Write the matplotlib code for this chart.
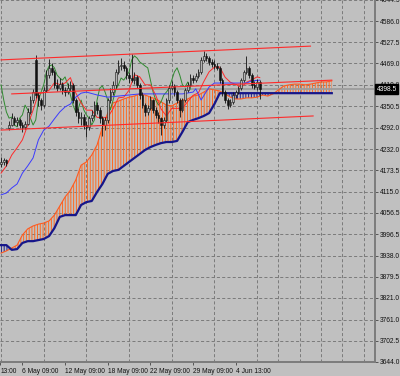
import numpy as np
import matplotlib
matplotlib.use("Agg")
import matplotlib.pyplot as plt

plt.rcParams['font.family'] = ['Liberation Sans', 'DejaVu Sans']
plt.rcParams['hatch.linewidth'] = 0.7
plt.rcParams['lines.scale_dashes'] = False

# price bars (one per bar index)
opens = [4190, 4197, 4202, 4290, 4299, 4318, 4307, 4313, 4299, 4294,
         4302, 4335, 4368, 4479, 4382, 4368, 4354, 4396, 4437, 4457,
         4446, 4410, 4401, 4412, 4396, 4390, 4401, 4410, 4368, 4335,
         4318, 4321, 4299, 4294, 4318, 4327, 4354, 4341, 4318, 4299,
         4313, 4368, 4390, 4410, 4446, 4462, 4465, 4457, 4437, 4429,
         4423, 4432, 4410, 4382, 4354, 4335, 4346, 4368, 4341, 4327,
         4318, 4299, 4313, 4368, 4401, 4407, 4390, 4368, 4341, 4368,
         4396, 4410, 4429, 4423, 4434, 4446, 4479, 4490, 4484, 4473,
         4468, 4462, 4457, 4423, 4390, 4368, 4354, 4363, 4382, 4390,
         4401, 4423, 4446, 4457, 4437, 4410, 4404, 4418]
highs = [4210, 4208, 4206, 4310, 4332, 4325, 4320, 4318, 4306, 4310,
         4345, 4378, 4398, 4493, 4390, 4375, 4405, 4450, 4482, 4470,
         4452, 4425, 4430, 4418, 4405, 4415, 4420, 4414, 4375, 4345,
         4335, 4330, 4310, 4325, 4340, 4365, 4362, 4348, 4325, 4320,
         4375, 4400, 4420, 4455, 4480, 4485, 4475, 4462, 4445, 4495,
         4445, 4438, 4416, 4390, 4360, 4355, 4378, 4372, 4350, 4335,
         4322, 4320, 4375, 4410, 4420, 4412, 4395, 4375, 4375, 4402,
         4418, 4440, 4436, 4442, 4455, 4488, 4503, 4498, 4490, 4482,
         4478, 4470, 4462, 4428, 4396, 4375, 4372, 4390, 4396, 4408,
         4430, 4452, 4490, 4462, 4442, 4420, 4425, 4424]
lows = [4183, 4188, 4185, 4285, 4295, 4300, 4296, 4290, 4280, 4288,
        4298, 4330, 4360, 4374, 4352, 4340, 4348, 4390, 4430, 4438,
        4400, 4392, 4395, 4385, 4378, 4384, 4392, 4360, 4325, 4305,
        4300, 4288, 4266, 4285, 4310, 4320, 4330, 4305, 4268, 4285,
        4305, 4360, 4382, 4402, 4440, 4450, 4448, 4425, 4415, 4418,
        4412, 4400, 4370, 4345, 4325, 4328, 4340, 4332, 4318, 4305,
        4271, 4290, 4308, 4360, 4395, 4380, 4360, 4322, 4335, 4362,
        4390, 4405, 4415, 4418, 4428, 4440, 4472, 4475, 4465, 4460,
        4455, 4450, 4415, 4380, 4360, 4344, 4348, 4358, 4375, 4384,
        4396, 4418, 4440, 4430, 4402, 4398, 4396, 4370]
closes = [4197, 4202, 4194, 4299, 4318, 4307, 4313, 4299, 4294, 4302,
          4335, 4368, 4390, 4382, 4368, 4354, 4396, 4437, 4457, 4446,
          4410, 4401, 4412, 4396, 4390, 4401, 4410, 4368, 4335, 4318,
          4321, 4299, 4294, 4318, 4327, 4354, 4341, 4318, 4299, 4313,
          4368, 4390, 4410, 4446, 4462, 4465, 4457, 4437, 4429, 4423,
          4432, 4410, 4382, 4354, 4335, 4346, 4368, 4341, 4327, 4318,
          4299, 4313, 4368, 4401, 4407, 4390, 4368, 4341, 4368, 4396,
          4410, 4429, 4423, 4434, 4446, 4479, 4490, 4484, 4473, 4468,
          4462, 4457, 4423, 4390, 4368, 4354, 4363, 4382, 4390, 4401,
          4423, 4446, 4457, 4437, 4410, 4404, 4418, 4398.5]

# ichimoku lines
tenkan_x = list(range(0, 97, 2)) + [97]
tenkan = [4166, 4186, 4216, 4236, 4258, 4299, 4340, 4386, 4388, 4395,
          4416, 4411, 4415, 4430, 4388, 4360, 4340, 4340, 4320, 4320,
          4320, 4344, 4374, 4376, 4395, 4438, 4432, 4410, 4410, 4381,
          4343, 4324, 4345, 4345, 4345, 4364, 4381, 4388, 4419, 4446,
          4459, 4459, 4431, 4417, 4411, 4403, 4417, 4424, 4432, 4430]
kijun_x = [0, 2, 4, 6, 8, 10, 12, 14, 16, 18, 20, 22, 24, 26, 28, 30, 32,
           36, 40, 44, 48, 52, 60, 68, 72, 73, 75, 78, 80, 92, 94, 97]
kijun = [4106, 4111, 4125, 4136, 4166, 4186, 4208, 4258, 4285, 4296,
         4316, 4335, 4349, 4357, 4376, 4387, 4390, 4382, 4376, 4379,
         4382, 4385, 4385, 4385, 4390, 4399, 4368, 4404, 4415, 4415,
         4421, 4423]
chikou_shift = 26

span_x = list(range(0, 125, 2))
span_a = [3945, 3951, 3959, 3967, 3995, 4012, 4020, 4025, 4028, 4034,
          4050, 4075, 4100, 4119, 4147, 4188, 4197, 4216, 4244, 4293,
          4332, 4360, 4365, 4371, 4376, 4379, 4385, 4382, 4376, 4371,
          4363, 4354, 4352, 4360, 4368, 4371, 4379, 4382, 4390, 4399,
          4396, 4393, 4385, 4376, 4371, 4371, 4374, 4374, 4376, 4382,
          4379, 4385, 4396, 4407, 4410, 4412, 4412, 4410, 4412, 4415,
          4418, 4418, 4421]
span_b = [3967, 3967, 3954, 3956, 3973, 3978, 3978, 3981, 3984, 3992,
          4014, 4045, 4050, 4050, 4050, 4078, 4086, 4089, 4114, 4136,
          4164, 4172, 4175, 4186, 4197, 4208, 4219, 4230, 4238, 4244,
          4249, 4252, 4252, 4255, 4280, 4307, 4313, 4318, 4324, 4332,
          4357, 4387, 4387, 4387, 4387, 4387, 4387, 4387, 4387, 4387,
          4387, 4387, 4387, 4387, 4387, 4387, 4387, 4387, 4387, 4387,
          4387, 4387, 4387]

# channel (trend lines)
chan_top_x, chan_top = [0, 116], [4479, 4517]
chan_mid_x, chan_mid = [4, 124], [4385, 4423]
chan_bot_x, chan_bot = [0, 117], [4285, 4324]

last_price = 4398.5
price_ticks = [3644.0, 3702.5, 3761.0, 3821.0, 3879.5, 3938.0, 3996.5, 4056.5,
               4115.0, 4173.5, 4232.0, 4292.0, 4350.5, 4410.0, 4469.0, 4527.5,
               4586.0, 4644.5]
time_ticks = [-0.3, 8, 24, 40, 56, 72, 88]
time_labels = ["13:00", "6 May 09:00", "12 May 09:00", "18 May 09:00",
               "22 May 09:00", "29 May 09:00", "4 Jun 13:00"]

BG = '#c0c0c0'
fig = plt.figure(figsize=(4, 3.76), dpi=100, facecolor=BG)
ax = fig.add_axes([0, 14 / 376, 375 / 400, 362 / 376], facecolor=BG)
ax.set_xlim(-0.4, 140.2)
ax.set_ylim(3644.0, 4644.5)

# grid
ax.set_yticks(price_ticks)
ax.set_yticklabels(["%.1f" % p for p in price_ticks])
ax.set_xticks(time_ticks)
ax.set_xticklabels(time_labels)
ax.set_xticks(np.arange(0, 141, 8), minor=True)
ax.grid(True, which='major', axis='y', color='#7a7a7a', lw=0.7, dashes=(2.2, 1.6))
ax.grid(True, which='minor', axis='x', color='#7a7a7a', lw=0.7, dashes=(2.2, 1.6))
ax.set_axisbelow(True)

# cloud
a = np.array(span_a)
b = np.array(span_b)
ax.fill_between(span_x, span_a, span_b, where=a >= b, interpolate=True,
                facecolor='none', edgecolor='#ff6a22', hatch='||||||', linewidth=0, zorder=1)
ax.fill_between(span_x, span_a, span_b, where=a < b, interpolate=True,
                facecolor='none', edgecolor='#1c1c8e', hatch='||||||', linewidth=0, zorder=1)
ax.plot(span_x, span_a, color='#ff5a20', lw=0.8, zorder=2)
ax.plot(span_x, span_b, color='#16168a', lw=1.6, zorder=2)

# bid line
ax.axhline(last_price, color='#9c9c9c', lw=1.3, zorder=1.5)

# ichimoku lines
bars = np.arange(len(closes))
ax.plot(bars[:-chikou_shift], closes[chikou_shift:], color='#2f8a2f', lw=0.7, zorder=3)
ax.plot(tenkan_x, tenkan, color='#ff2a2a', lw=0.7, zorder=3)
ax.plot(kijun_x, kijun, color='#3a3aff', lw=0.7, zorder=3)

# candles
o = np.array(opens)
c = np.array(closes)
ax.vlines(bars, lows, highs, color='#111111', lw=0.6, zorder=4)
up = c >= o
ax.bar(bars[up], (c - o)[up], bottom=o[up], width=0.65, color='#b4b4b4',
       edgecolor='#111111', linewidth=0.4, zorder=5)
ax.bar(bars[~up], (o - c)[~up], bottom=c[~up], width=0.65, color='#111111',
       edgecolor='#111111', linewidth=0.4, zorder=5)

# channel
for xs, ys in [(chan_top_x, chan_top), (chan_mid_x, chan_mid), (chan_bot_x, chan_bot)]:
    ax.plot(xs, ys, color='#ff2a2a', lw=0.8, zorder=6)

# axes styling
for s in ['left', 'top']:
    ax.spines[s].set_visible(False)
for s in ['right', 'bottom']:
    ax.spines[s].set_color('#7c7c7c')
    ax.spines[s].set_linewidth(1.4)
ax.yaxis.tick_right()
ax.tick_params(axis='y', which='major', direction='out', length=2.5, width=0.7,
               color='#555555', labelsize=4.8, pad=1.2, labelcolor='#111111')
ax.tick_params(axis='x', which='major', direction='out', length=2.5, width=0.7,
               color='#555555', labelsize=4.8, pad=1.5, labelcolor='#111111')
ax.tick_params(axis='x', which='minor', length=0)
for lbl in ax.get_xticklabels():
    lbl.set_ha('left')

ax.text(1.004, last_price, "%.1f" % last_price, transform=ax.get_yaxis_transform(),
        ha='left', va='center', color='white', fontsize=4.8, clip_on=False, zorder=10,
        bbox=dict(boxstyle='square,pad=0.18', fc='black', ec='black'))

fig.savefig("out.png", dpi=100, facecolor=BG)
